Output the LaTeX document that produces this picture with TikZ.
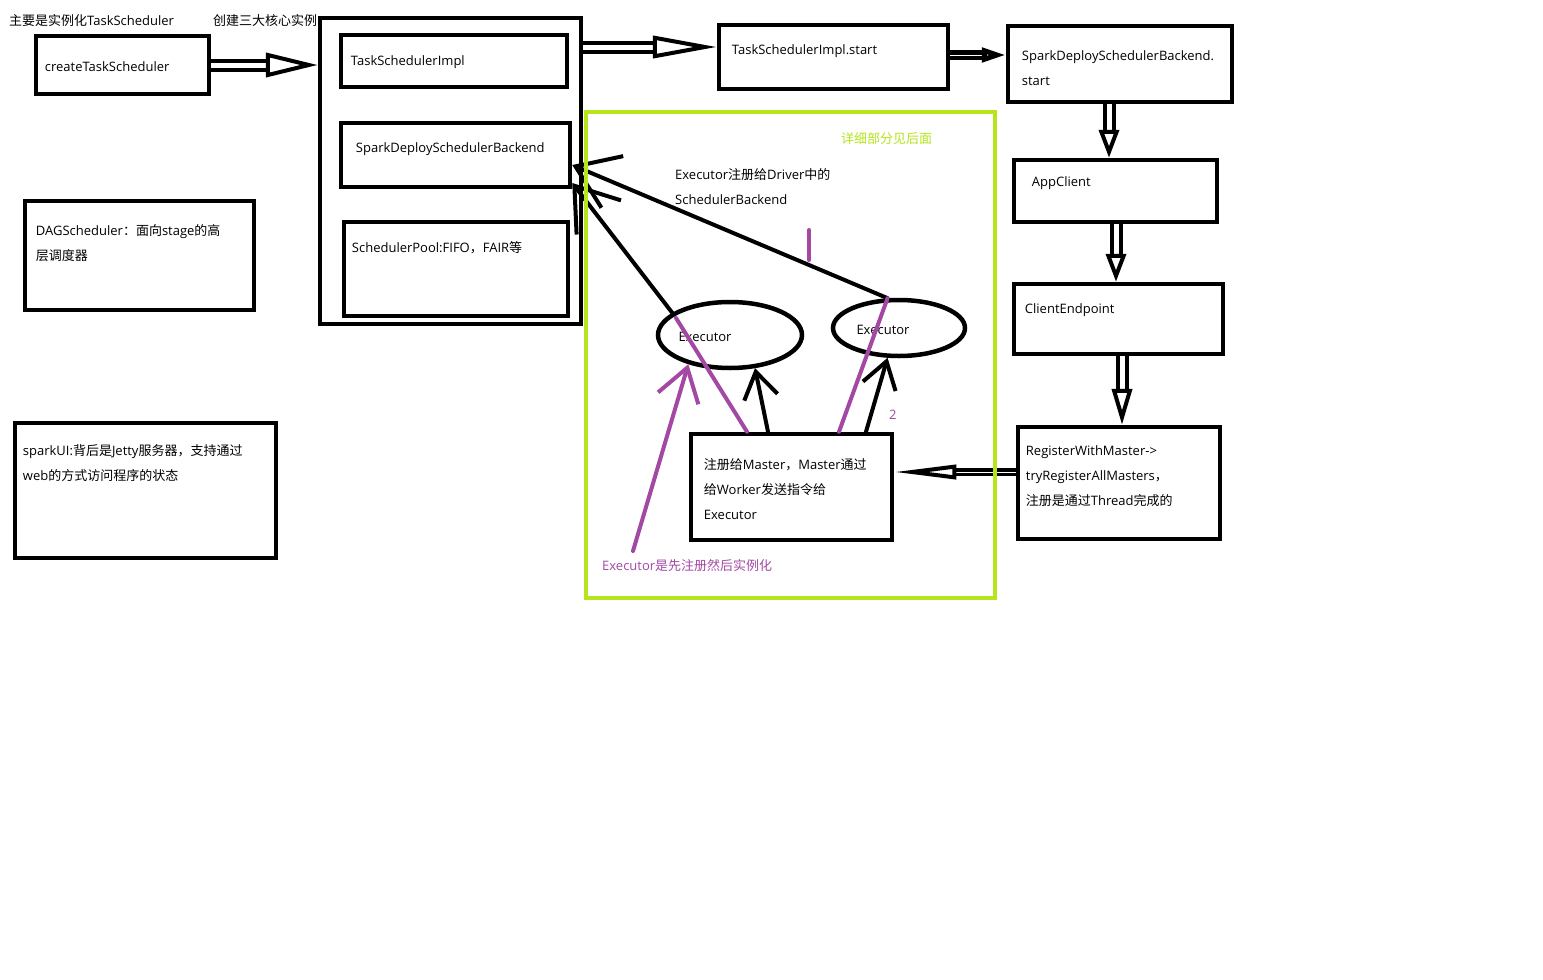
\documentclass[tikz,border=0pt]{standalone}
\usepackage{fontspec}
\setmainfont{Open Sans}
\newfontfamily\latinfont{Open Sans}
\newfontfamily\cjkfont{Noto Sans CJK SC}
% chinese characters in the cjk font, the rest in open sans
\XeTeXinterchartokenstate=1
\newXeTeXintercharclass\cjkclass
\count255="4E00
\loop\XeTeXcharclass\count255=\cjkclass\advance\count255 by 1\relax\ifnum\count255<"A000 \repeat
\XeTeXcharclass"FF0C=\cjkclass
\XeTeXcharclass"FF1A=\cjkclass
\XeTeXinterchartoks 0 \cjkclass={\cjkfont}
\XeTeXinterchartoks 4095 \cjkclass={\cjkfont}
\XeTeXinterchartoks \cjkclass 0={\latinfont}
\XeTeXinterchartoks 4095 0={\latinfont}
\usepackage{tikz}
\usetikzlibrary{calc, shapes.geometric, arrows.meta}
\definecolor{paintlime}{RGB}{181,230,29}
\definecolor{paintpurple}{RGB}{163,73,164}
% from, to, line width, gap, head length, head width
\newcommand{\hollowarrow}[6]{
\draw[line width=#3, double=white, double distance=#4] (#1) -- ($(#2)!#5!(#1)$);
\draw[line width=#3, -{Triangle[length=#5, width=#6, fill=white]}] ($(#2)!#5!(#1)$) -- (#2);
}

\begin{document}
\begin{tikzpicture}[x=1pt, y=-1pt, font=\fontsize{13}{25}\selectfont,
box/.style={draw, line width=4.5pt, rectangle, inner sep=0pt},
exec/.style={draw, line width=4.5pt, ellipse, inner sep=0pt},
txt/.style={inner sep=0pt, anchor=west, align=left},
line/.style={line width=4pt, line cap=round, -{Straight Barb[length=26pt, width=34pt]}},
pline/.style={paintpurple, line width=4pt, line cap=round}
]
\fill[white] (0,0) rectangle (1543,980);
\useasboundingbox (0,0) rectangle (1543,980);

\node[txt] (title) at (9,21) {主要是实例化TaskScheduler};
\node[txt] (three) at (213,21) {创建三大核心实例};

\node[box, minimum width=173pt, minimum height=58pt, label={[txt, xshift=11pt, yshift=-1.5pt]west:{createTaskScheduler}}] (create) at (122.5,65) {};
\node[box, minimum width=261pt, minimum height=306pt] (core) at (450.5,171) {};
\node[box, minimum width=226pt, minimum height=52pt, label={[txt, xshift=12pt, yshift=-1.5pt]west:{TaskSchedulerImpl}}] (tsi) at (454,61) {};
\node[box, minimum width=229pt, minimum height=64pt, label={[txt, xshift=17pt, yshift=5.5pt]west:{SparkDeploySchedulerBackend}}] (spark) at (455.5,155) {};
\node[box, minimum width=224pt, minimum height=94pt, label={[txt, xshift=10pt, yshift=21.5pt]west:{SchedulerPool:FIFO，FAIR等}}] (pool) at (456,269) {};
\node[box, minimum width=229pt, minimum height=109pt, label={[txt, xshift=13pt, yshift=12.5pt]west:{DAGScheduler：面向stage的高\\层调度器}}] (dag) at (139.5,255.5) {};
\node[box, minimum width=261pt, minimum height=135pt, label={[txt, xshift=10pt, yshift=27.5pt]west:{sparkUI:背后是Jetty服务器，支持通过\\web的方式访问程序的状态}}] (ui) at (145.5,490.5) {};

\node[box, minimum width=229pt, minimum height=64pt, label={[txt, xshift=15pt, yshift=5.5pt]west:{TaskSchedulerImpl.start}}] (tsistart) at (833.5,57) {};
\node[box, minimum width=224pt, minimum height=76pt, label={[txt, xshift=16pt, yshift=-4pt]west:{SparkDeploySchedulerBackend.\\start}}] (sdbstart) at (1120,64) {};
\node[box, minimum width=203pt, minimum height=62pt, label={[txt, xshift=20pt, yshift=7.5pt]west:{AppClient}}] (appclient) at (1115.5,191) {};
\node[box, minimum width=209pt, minimum height=70pt, label={[txt, xshift=13pt, yshift=8.5pt]west:{ClientEndpoint}}] (endpoint) at (1118.5,319) {};
\node[box, minimum width=202pt, minimum height=112pt, label={[txt, xshift=10pt, yshift=6.5pt]west:{RegisterWithMaster->\\tryRegisterAllMasters，\\注册是通过Thread完成的}}] (register) at (1119,483) {};

\node[box, minimum width=201pt, minimum height=106pt, label={[txt, xshift=15pt, yshift=-2.5pt]west:{注册给Master，Master通过\\给Worker发送指令给\\Executor}}] (master) at (791.5,487) {};
\node[exec, minimum width=144pt, minimum height=66pt, label={[inner sep=0pt, xshift=-25pt, yshift=-2pt]center:{Executor}}] (exA) at (730,335) {};
\node[exec, minimum width=132pt, minimum height=56pt, label={[inner sep=0pt, xshift=-16pt, yshift=-2pt]center:{Executor}}] (exB) at (899,328) {};

\node[txt, paintlime] (see) at (841,139) {详细部分见后面};
\node[txt] (driver) at (675,187) {Executor注册给Driver中的\\SchedulerBackend};
\node[txt, paintpurple] (two) at (889,415) {2};
\node[txt, paintpurple] (note) at (602,566) {Executor是先注册然后实例化};

% hollow arrows
\coordinate (coreIn) at (create.east -| core.west);
\hollowarrow{create.east}{coreIn}{4pt}{5pt}{52pt}{24pt}
\coordinate (startIn) at ([yshift=10pt]tsistart.west);
\coordinate (coreOut) at (core.east |- startIn);
\hollowarrow{coreOut}{startIn}{4pt}{5pt}{64pt}{22pt}
\coordinate (sdbIn) at ([yshift=9pt]sdbstart.west);
\coordinate (tsiOut) at (tsistart.east |- sdbIn);
\hollowarrow{tsiOut}{sdbIn}{5pt}{0.5pt}{24pt}{14pt}
\coordinate (sdbOut) at ([xshift=-11pt]sdbstart.south);
\coordinate (appIn) at (sdbOut |- appclient.north);
\hollowarrow{sdbOut}{appIn}{4pt}{5pt}{28pt}{20pt}
\coordinate (appOut) at ([xshift=0.5pt]appclient.south);
\coordinate (endIn) at (appOut |- endpoint.north);
\hollowarrow{appOut}{endIn}{4pt}{5pt}{28pt}{20pt}
\coordinate (endOut) at ([xshift=3.5pt]endpoint.south);
\coordinate (regIn) at (endOut |- register.north);
\hollowarrow{endOut}{regIn}{4pt}{5pt}{36pt}{20pt}
\coordinate (masterIn) at ([yshift=15pt]master.east);
\coordinate (regOut) at (register.west |- masterIn);
\hollowarrow{regOut}{masterIn}{4pt}{0.5pt}{62pt}{14pt}

% executors back to the backend
\draw[line, -{Straight Barb[length=40pt, width=56pt]}] (exA.159) -- ([yshift=-28pt]spark.east);
\draw[line, -{Straight Barb[length=40pt, width=56pt]}] (exB.111) -- ([yshift=-10pt]spark.east);
\draw[line] ([xshift=-23.5pt]master.north) -- (exA.-53);
\draw[line] ([xshift=74.5pt]master.north) -- (exB.-111);

\node[draw=paintlime, line width=4pt, rectangle, inner sep=0pt, minimum width=409pt, minimum height=486pt] (detail) at (790.5,355) {};

% purple strokes
\draw[pline] ([shift={(-54pt,17pt)}]exA.center) -- ([xshift=-44.5pt]master.north);
\draw[pline] (exB.111) -- ([xshift=47.5pt]master.north);
\draw[pline, -{Straight Barb[length=32pt, width=42pt]}] ([xshift=31pt, yshift=15pt]note.west) -- (exA.215);
\coordinate (markTop) at (809,230);
\coordinate (markBot) at (809,260);
\draw[pline] (markTop) -- (markBot);

\end{tikzpicture}
\end{document}
